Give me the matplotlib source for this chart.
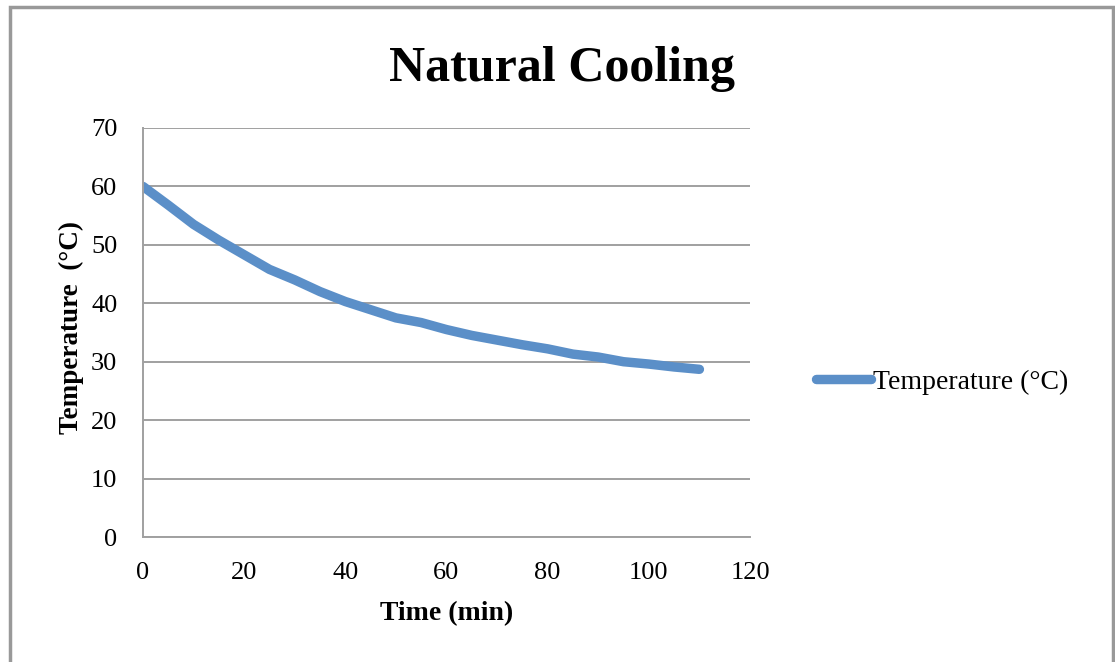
import matplotlib.pyplot as plt
from matplotlib.patches import Rectangle

# cooling readings, every 5 minutes
time_min = [0, 5, 10, 15, 20, 25, 30, 35, 40, 45, 50, 55,
            60, 65, 70, 75, 80, 85, 90, 95, 100, 105, 110]
temp_c = [60.0, 56.8, 53.5, 50.8, 48.3, 45.8, 44.0, 42.0, 40.3, 38.9, 37.5, 36.7,
          35.5, 34.5, 33.7, 32.9, 32.2, 31.3, 30.8, 30.0, 29.6, 29.1, 28.7]
x_ticks = [0, 20, 40, 60, 80, 100, 120]
y_ticks = [0, 10, 20, 30, 40, 50, 60, 70]

plt.rcParams['font.family'] = ['Liberation Serif', 'DejaVu Serif']

fig = plt.figure(figsize=(11.15, 6.62), dpi=100)
ax = fig.add_axes([143 / 1115, 1 - 537 / 662, (750 - 143) / 1115, (537 - 128) / 662])

ax.plot(time_min, temp_c, color='#5b8fc8', linewidth=6.8,
        solid_capstyle='round', solid_joinstyle='round', label='Temperature (°C)')

ax.set_xlim(0, 120)
ax.set_ylim(0, 70)
ax.set_xticks(x_ticks)
ax.set_yticks(y_ticks)
ax.tick_params(length=0, labelsize=19)
ax.tick_params(axis='y', pad=18.5)
ax.tick_params(axis='x', pad=18)
ax.grid(axis='y', color='#a0a0a0', linewidth=1.4)
ax.set_axisbelow(True)
for side in ['top', 'right']:
    ax.spines[side].set_visible(False)
for side in ['left', 'bottom']:
    ax.spines[side].set_color('#a0a0a0')
    ax.spines[side].set_linewidth(1.4)

ax.set_xlabel('Time (min)', fontsize=20, fontweight='bold', va='center')
ax.xaxis.set_label_coords(0.5, -0.188)
ax.set_ylabel('Temperature  (°C)', fontsize=19.5, fontweight='bold', va='center')
ax.yaxis.set_label_coords(-0.118, 0.513)
fig.text(562 / 1115, 1 - 69 / 662, 'Natural Cooling', fontsize=36,
         fontweight='bold', ha='center', va='center')

ax.legend(loc='center left', bbox_to_anchor=(802 / 1115, 1 - 382 / 662),
          bbox_transform=fig.transFigure, frameon=False, fontsize=20,
          handlelength=2.0, handletextpad=0.05, borderpad=0)

# outer chart border
fig.patches.append(Rectangle((10 / 1115, -0.05), 1103 / 1115, 1 - 7 / 662 + 0.05,
                             transform=fig.transFigure, fill=False,
                             edgecolor='#999999', linewidth=2.5))

fig.savefig('out.png', dpi=100)
